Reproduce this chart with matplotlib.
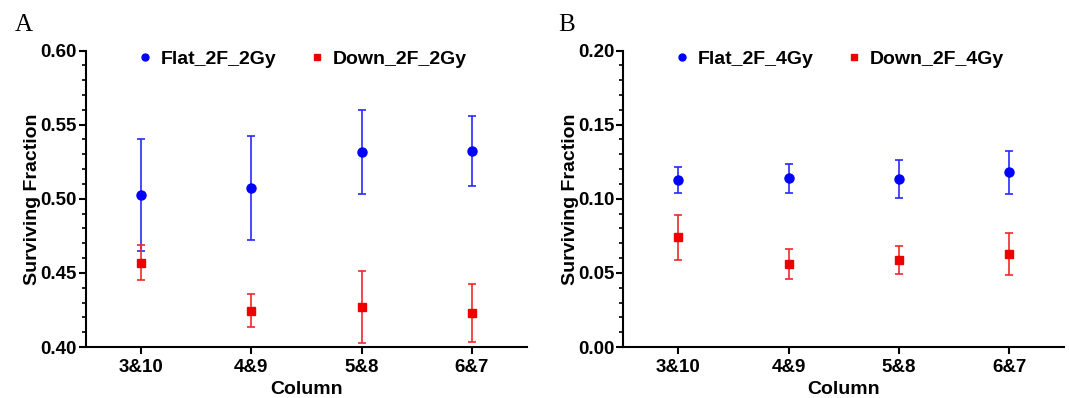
import matplotlib
matplotlib.use("Agg")
import matplotlib.pyplot as plt
from matplotlib.lines import Line2D
from matplotlib.ticker import MultipleLocator, FormatStrFormatter

plt.rcParams['font.family'] = ['Liberation Sans', 'DejaVu Sans']
plt.rcParams['font.weight'] = 'bold'

columns = ["3&10", "4&9", "5&8", "6&7"]

# panel A, 2Gy
flat_2gy = [0.5023, 0.5071, 0.5316, 0.5322]
flat_2gy_err = [0.0377, 0.0350, 0.0282, 0.0238]
down_2gy = [0.4569, 0.4244, 0.4271, 0.4230]
down_2gy_err = [0.0120, 0.0112, 0.0243, 0.0195]

# panel B, 4Gy
flat_4gy = [0.1124, 0.1137, 0.1133, 0.1178]
flat_4gy_err = [0.0088, 0.0101, 0.0128, 0.0145]
down_4gy = [0.0740, 0.0561, 0.0588, 0.0626]
down_4gy_err = [0.0150, 0.0103, 0.0097, 0.0141]

panels = [
    ("A", "Flat_2F_2Gy", flat_2gy, flat_2gy_err, "Down_2F_2Gy", down_2gy, down_2gy_err, (0.40, 0.60)),
    ("B", "Flat_2F_4Gy", flat_4gy, flat_4gy_err, "Down_2F_4Gy", down_4gy, down_4gy_err, (0.00, 0.20)),
]

blue = '#0000ff'
red = '#ee0000'

fig = plt.figure(figsize=(10.69, 3.98), dpi=100)
lefts = [0.0804, 0.583]
tag_x = [0.014, 0.522]
width = 0.4125

for left, tx, (tag, n1, y1, e1, n2, y2, e2, ylim) in zip(lefts, tag_x, panels):
    ax = fig.add_axes([left, 0.128, width, 0.745])
    x = range(len(columns))
    ax.errorbar(x, y1, yerr=e1, fmt='o', color=blue, ecolor='#2a2aff',
                markersize=6.5, elinewidth=1.2, capsize=3, capthick=1.2)
    ax.errorbar(x, y2, yerr=e2, fmt='s', color=red, ecolor='#ee2a2a',
                markersize=6, elinewidth=1.2, capsize=3, capthick=1.2)
    ax.set_xlim(-0.5, 3.5)
    ax.set_ylim(*ylim)
    ax.set_xticks(list(x))
    ax.set_xticklabels(columns)
    ax.yaxis.set_major_locator(MultipleLocator(0.05))
    ax.yaxis.set_minor_locator(MultipleLocator(0.01))
    ax.yaxis.set_major_formatter(FormatStrFormatter('%.2f'))
    for s in ['top', 'right']:
        ax.spines[s].set_visible(False)
    for s in ['left', 'bottom']:
        ax.spines[s].set_linewidth(1.5)
    ax.tick_params(axis='both', which='major', labelsize=13.5, width=1.5, length=5)
    ax.tick_params(axis='y', which='major', pad=1.5)
    ax.tick_params(axis='y', which='minor', width=1.2, length=3)
    ax.set_ylabel("Surviving Fraction", fontsize=14, fontweight='bold', labelpad=-0.5)
    ax.set_xlabel("Column", fontsize=14, fontweight='bold', labelpad=3.5)
    handles = [Line2D([], [], marker='o', color=blue, ls='none', markersize=5),
               Line2D([], [], marker='s', color=red, ls='none', markersize=5)]
    ax.legend(handles, [n1, n2], loc='upper center', bbox_to_anchor=(0.4875, 1.06), ncol=2,
              frameon=False, handletextpad=0.3, columnspacing=1.6, handlelength=1.0,
              prop={'weight': 'bold', 'size': 14})
    fig.text(tx, 0.937, tag, fontsize=18, family='Liberation Serif',
             fontweight='normal', va='center')

fig.savefig("out.png", dpi=100)
